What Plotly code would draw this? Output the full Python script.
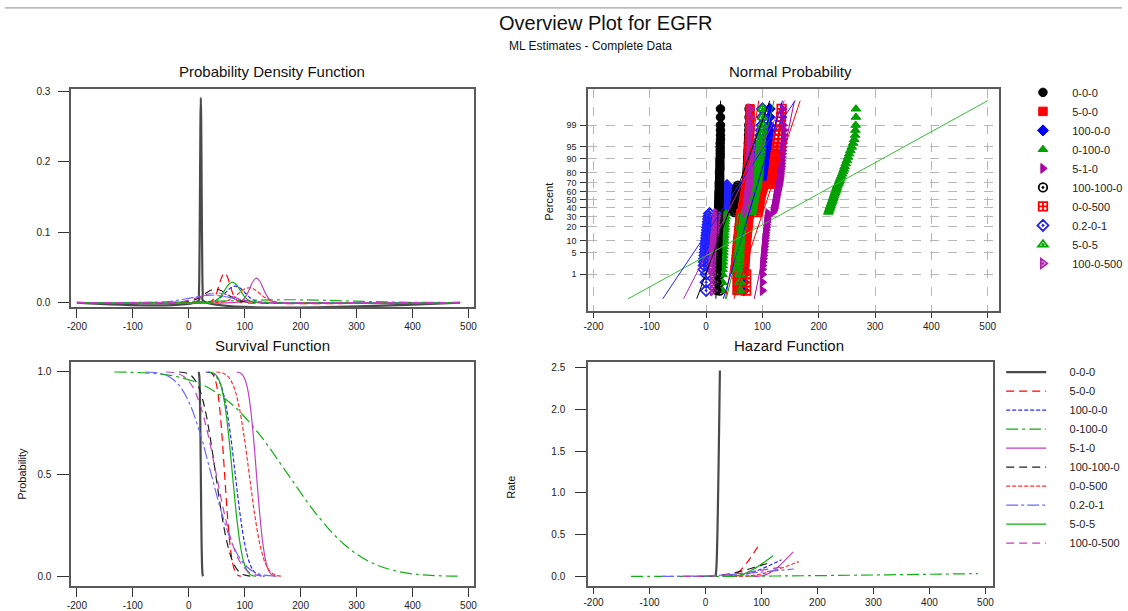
import plotly.graph_objects as go
from statistics import NormalDist

W, H = 1128, 611
FONT = "Arial, Liberation Sans, sans-serif"

# ---------------- data ----------------
SERIES = ["0-0-0", "5-0-0", "100-0-0", "0-100-0", "5-1-0",
          "100-100-0", "0-0-500", "0.2-0-1", "5-0-5", "100-0-500"]

# survival probability levels at which each curve's x positions were read
SURV_LEVELS = [0.9990, 0.9938, 0.9772, 0.9332, 0.8413, 0.6915, 0.5,
               0.3085, 0.1587, 0.0668, 0.0228, 0.0062, 0.00097]

CURVE_X = {
    "0-0-0":     [17.25, 18.07, 18.76, 19.44, 20.13, 20.81, 21.5, 22.19, 22.87, 23.56, 24.24, 24.93, 25.75],
    "5-0-0":     [34.6, 40.3, 45.0, 49.8, 54.5, 59.3, 64.0, 68.8, 73.5, 78.3, 83.0, 87.8, 93.5],
    "100-0-0":   [30.3, 40.5, 49.0, 57.5, 66.0, 74.5, 83.0, 91.5, 100.0, 108.5, 117.0, 125.5, 135.7],
    "0-100-0":   [-133, -73, -23, 27, 77, 127, 177, 227, 277, 327, 377, 427, 487],
    "5-1-0":     [85.35, 92.25, 98.0, 103.75, 109.5, 115.25, 121.0, 126.75, 132.5, 138.25, 144.0, 149.75, 156.65],
    "100-100-0": [-17.1, -4.5, 6.0, 16.5, 27.0, 37.5, 48.0, 58.5, 69.0, 79.5, 90.0, 100.5, 113.1],
    "0-0-500":   [49.1, 60.5, 70.0, 79.5, 89.0, 98.5, 108.0, 117.5, 127.0, 136.5, 146.0, 155.5, 166.9],
    "0.2-0-1":   [-77.8, -55.0, -36.0, -17.0, 2.0, 21.0, 40.0, 59.0, 78.0, 97.0, 116.0, 135.0, 157.8],
    "5-0-5":     [35.5, 43.75, 50.6, 57.45, 64.3, 71.15, 78.0, 84.85, 91.7, 98.55, 105.4, 112.25, 120.5],
    "100-0-500": [-40.9, -23.5, -9.0, 5.5, 20.0, 34.5, 49.0, 63.5, 78.0, 92.5, 107.0, 121.5, 138.9],
}

PDF_Y = {
    "0-0-0":     [0.00239, 0.01277, 0.0394, 0.0945, 0.1766, 0.2570, 0.2912, 0.2570, 0.1766, 0.0945, 0.0394, 0.01277, 0.00239],
    "5-0-0":     [0.000344, 0.00184, 0.00568, 0.01363, 0.02547, 0.03706, 0.04199, 0.03706, 0.02547, 0.01363, 0.00568, 0.00184, 0.000344],
    "100-0-0":   [0.000192, 0.00103, 0.00318, 0.00762, 0.01424, 0.02071, 0.02346, 0.02071, 0.01424, 0.00762, 0.00318, 0.00103, 0.000192],
    "0-100-0":   [0.0000327, 0.000175, 0.00054, 0.001295, 0.00242, 0.003521, 0.003989, 0.003521, 0.00242, 0.001295, 0.00054, 0.000175, 0.0000327],
    "5-1-0":     [0.000284, 0.00152, 0.0047, 0.01126, 0.02104, 0.03062, 0.03469, 0.03062, 0.02104, 0.01126, 0.0047, 0.00152, 0.000284],
    "100-100-0": [0.000156, 0.000833, 0.00257, 0.00617, 0.01152, 0.01677, 0.0190, 0.01677, 0.01152, 0.00617, 0.00257, 0.000833, 0.000156],
    "0-0-500":   [0.000172, 0.000921, 0.00284, 0.00682, 0.01274, 0.01853, 0.0210, 0.01853, 0.01274, 0.00682, 0.00284, 0.000921, 0.000172],
    "0.2-0-1":   [0.000086, 0.00046, 0.00142, 0.00341, 0.00637, 0.00927, 0.0105, 0.00927, 0.00637, 0.00341, 0.00142, 0.00046, 0.000086],
    "5-0-5":     [0.000239, 0.00128, 0.00394, 0.00945, 0.01766, 0.0257, 0.02912, 0.0257, 0.01766, 0.00945, 0.00394, 0.00128, 0.000239],
    "100-0-500": [0.000113, 0.000603, 0.00186, 0.00447, 0.00834, 0.01214, 0.01376, 0.01214, 0.00834, 0.00447, 0.00186, 0.000603, 0.000113],
}

HAZ_Y = {
    "0-0-0":     [0.00239, 0.0128, 0.0404, 0.1013, 0.2099, 0.3717, 0.5824, 0.8331, 1.1132, 1.4150, 1.7323, 2.0603, 2.4657],
    "5-0-0":     [0.000344, 0.00185, 0.00582, 0.01461, 0.03027, 0.0536, 0.084, 0.1201, 0.1605, 0.2041, 0.2498, 0.2971, 0.3556],
    "100-0-0":   [0.000192, 0.00104, 0.00325, 0.00816, 0.01692, 0.02995, 0.04694, 0.06714, 0.08971, 0.114, 0.1396, 0.166, 0.1987],
    "0-100-0":   [0.0000327, 0.000176, 0.000553, 0.00139, 0.00288, 0.00509, 0.00798, 0.01141, 0.01525, 0.01939, 0.02373, 0.02823, 0.03378],
    "5-1-0":     [0.000284, 0.00153, 0.00481, 0.01207, 0.02501, 0.04428, 0.06938, 0.09924, 0.1326, 0.1686, 0.2064, 0.2454, 0.2937],
    "100-100-0": [0.000156, 0.000838, 0.00263, 0.00661, 0.0137, 0.02425, 0.038, 0.05435, 0.07262, 0.09231, 0.113, 0.1344, 0.1609],
    "0-0-500":   [0.000172, 0.000926, 0.00291, 0.00731, 0.01514, 0.0268, 0.042, 0.06007, 0.08027, 0.102, 0.1249, 0.1486, 0.1778],
    "0.2-0-1":   [0.000086, 0.000463, 0.00146, 0.00365, 0.00757, 0.0134, 0.021, 0.03003, 0.04013, 0.05102, 0.06245, 0.07428, 0.0889],
    "5-0-5":     [0.000239, 0.00128, 0.00404, 0.01013, 0.02099, 0.03717, 0.05824, 0.08331, 0.1113, 0.1415, 0.1732, 0.206, 0.2466],
    "100-0-500": [0.000113, 0.000607, 0.00191, 0.00479, 0.00992, 0.01756, 0.02751, 0.03936, 0.05259, 0.06685, 0.08184, 0.09733, 0.1165],
}

# normal probability plot: plotting positions (percent) of the three point groups
LOW_PCT = [0.23, 0.5, 1.0, 1.5, 2.0, 2.6, 3.3, 4.1, 5.0, 6.0, 7.2, 8.5, 10, 11.6,
           13.3, 15.2, 17.3, 19.5, 22, 24.6, 27.4, 30.3, 33.3]
MID_PCT = [35, 37, 39, 41, 43, 45, 47, 49, 51, 53, 55, 57, 59, 61, 63, 65, 67]
HIGH_PCT = [69, 71, 73, 75, 77, 79, 81, 83, 85, 87, 89, 90.8, 92.4, 93.8, 95, 96.1,
            97, 97.8, 98.5, 99.0, 99.5, 99.77]

# x of each point: low group, middle group, high group
POINT_X = {
    "0-0-0": (
        [19, 19, 19, 19.5, 19.5, 20, 20, 20, 20.5, 20.5, 20.5, 21, 21, 21, 21, 21.5, 21.5, 21.5, 21.5, 22, 22, 22, 22],
        [22, 22, 22.5, 22.5, 22.5, 22.5, 22.5, 23, 23, 23, 23, 23, 23, 23.5, 23.5, 23.5, 23.5],
        [23.5, 23.5, 24, 24, 24, 24, 24, 24.5, 24.5, 24.5, 24.5, 25, 25, 25, 25, 25, 25.5, 25.5, 25.5, 25.5, 25.5, 25.5]),
    "5-0-0": (
        [55, 55, 55, 52, 52.5, 53, 53.5, 54, 54.5, 55, 55.5, 56, 56.5, 57, 57.5, 58, 58.5, 59, 59.5, 60, 60.5, 61, 61.5],
        [64, 64.5, 65, 65.5, 66, 66.5, 67, 67.5, 68, 68.5, 69, 69.5, 70, 70.5, 71, 72, 73],
        [73, 73, 73.5, 73.5, 74, 74, 74.5, 74.5, 75, 75, 75.5, 75.5, 76, 76, 76.5, 76.5, 77, 77, 77.5, 77.5, 78, 78]),
    "100-0-0": (
        [67, 67, 67, 66, 66.5, 67, 67, 67.5, 67.5, 68, 68, 68.5, 68.5, 69, 69, 69.5, 70, 70, 70.5, 71, 71.5, 72, 72.5],
        [80, 80.3, 80.6, 81, 81.3, 81.6, 82, 82.3, 82.6, 83, 83.3, 83.6, 84, 84.3, 84.6, 85, 85.5],
        [104, 104.5, 105, 105.5, 106, 106, 106.5, 107, 107, 107.5, 108, 108, 108.5, 109, 109.5, 110, 110.5, 111, 111.5, 112, 112.5, 113]),
    "0-100-0": (
        [29, 29, 29, 29, 29.5, 29.5, 30, 30, 30.5, 30.5, 31, 31, 31.5, 31.5, 32, 32, 32.5, 33, 33, 33.5, 34, 34.5, 35],
        [217, 218, 219, 220, 221, 222, 223, 224, 225, 226, 227, 228, 229, 230, 231, 232, 233],
        [235, 236, 237, 238.5, 240, 241.5, 243, 244.5, 246, 248, 250, 252, 254, 256, 258.5, 261, 263, 264.5, 265, 265.5, 266, 266]),
    "5-1-0": (
        [100, 100, 100, 100, 100.5, 101, 101.5, 102, 102.5, 103, 103.5, 104, 104.5, 105, 105.5, 106, 106.5, 107, 107.5, 108, 108.5, 109, 110],
        [119, 120, 121, 121.5, 122, 122.5, 123, 123.5, 124, 124.5, 125, 125.5, 126, 127, 127.5, 128, 129],
        [129.5, 130, 130.5, 131, 131.5, 132, 132.5, 133, 133.5, 134, 134.5, 135, 135.5, 136, 136.5, 137, 137.5, 138, 138, 137, 136, 136]),
    "100-100-0": (
        [24, 24, 24, 24.5, 25, 25, 25.5, 25.5, 26, 26, 26.5, 26.5, 27, 27, 27.5, 27.5, 28, 28, 28.5, 28.5, 29, 29, 29],
        [50, 50.5, 51, 51.5, 52, 52, 52.5, 53, 53, 53.5, 54, 54, 54.5, 55, 55.5, 56, 56.5],
        [72, 72, 72.5, 72.5, 73, 73, 73.5, 73.5, 74, 74, 74.5, 74.5, 75, 75, 75.5, 75.5, 76, 76, 76.5, 76.5, 77, 77]),
    "0-0-500": (
        [71, 71, 71, 67, 67.5, 68, 68.5, 69, 69, 69.5, 70, 70, 70.5, 71, 71.5, 72, 72.5, 73, 73.5, 74, 74.5, 75, 75.5],
        [91, 91.5, 92, 92.5, 93, 93.5, 94, 94.5, 95, 95.5, 96, 96.5, 97, 98, 99, 100, 101],
        [117, 117.5, 118, 118.5, 119, 119.5, 120, 120.5, 121, 121.5, 122, 123, 124, 125, 126, 127, 128, 129, 130, 131.5, 133, 134]),
    "0.2-0-1": (
        [0, 0, 0, -4, -3.5, -3, -2.5, -2, -1.5, -1, -0.5, 0, 0.5, 1, 1.5, 2, 2.5, 3, 3.5, 4, 4.5, 5, 6],
        [30, 30.5, 31, 31.5, 32, 32, 32.5, 33, 33, 33.5, 34, 34.5, 35, 35.5, 36, 36.5, 37],
        [88, 88.5, 89, 89.5, 90, 90.5, 91, 91.5, 92, 92.5, 93, 93.5, 94, 94.5, 95, 95.5, 96, 97, 98, 99, 100, 100]),
    "5-0-5": (
        [60, 60, 60, 57, 57.5, 58, 58, 58.5, 58.5, 59, 59, 59.5, 60, 60, 60.5, 61, 61.5, 62, 62.5, 63, 63.5, 64, 65],
        [80, 80.5, 81, 81.5, 82, 82.5, 83, 83.5, 84, 84.5, 85, 85.5, 86, 86.5, 87, 88, 89],
        [89.5, 90, 90.5, 91, 91.5, 92, 92.5, 93, 93.5, 94, 94.5, 95, 95.5, 96, 96.5, 97, 97.5, 98, 99, 100, 100, 100]),
    "100-0-500": (
        [12, 12, 12, 9, 9.5, 10, 10.5, 11, 11, 11.5, 12, 12, 12.5, 13, 13.5, 14, 14.5, 15, 15.5, 16, 16.5, 17, 18],
        [70, 70.3, 70.6, 71, 71.3, 71.6, 72, 72.3, 72.6, 73, 73.3, 73.6, 74, 74, 74.3, 74.6, 75],
        [75, 75, 75, 75.5, 75.5, 76, 76, 76, 76.5, 76.5, 77, 77, 77, 77.5, 77.5, 77.5, 77.5, 77.5, 77.5, 77.5, 77.5, 77.5]),
}

# fitted lines on the probability plot: x at 0.1 % and at 99.9 %
FIT_PCT = [0.1, 99.9]
FIT_X = {
    "0-0-0": [17.3, 25.7], "5-0-0": [34.5, 93.5], "100-0-0": [30.6, 135.5],
    "0-100-0": [-138.5, 500], "5-1-0": [85.5, 156.8], "100-100-0": [-16.7, 113],
    "0-0-500": [49.5, 167], "0.2-0-1": [-77, 158], "5-0-5": [35.8, 120.6],
    "100-0-500": [-40, 139],
}

PCT_TICKS = [1, 5, 10, 20, 30, 40, 50, 60, 70, 80, 90, 95, 99]
X_TICKS = [-200, -100, 0, 100, 200, 300, 400, 500]
X_TICKTEXT = ["-200", "-100", "0", "100", "200", "300", "400", "500"]

# ---------------- styles ----------------
MARK_COLORS = {"0-0-0": "#000000", "5-0-0": "#ff0000", "100-0-0": "#0000ff", "0-100-0": "#00a000",
               "5-1-0": "#a800a8", "100-100-0": "#000000", "0-0-500": "#ff0000", "0.2-0-1": "#2020ff",
               "5-0-5": "#00a800", "100-0-500": "#b020b0"}
LINE_COLORS = {"0-0-0": "#4a4a4a", "5-0-0": "#ff0000", "100-0-0": "#2a2aff", "0-100-0": "#10b010",
               "5-1-0": "#c040c0", "100-100-0": "#202020", "0-0-500": "#ff3030", "0.2-0-1": "#6868ff",
               "5-0-5": "#10b010", "100-0-500": "#c040c0"}
DASHES = {"0-0-0": "solid", "5-0-0": "8px,5px", "100-0-0": "4px,2px", "0-100-0": "12px,4px,3px,4px",
          "5-1-0": "solid", "100-100-0": "8px,5px", "0-0-500": "4px,2px", "0.2-0-1": "12px,3px,3px,3px",
          "5-0-5": "solid", "100-0-500": "8px,5px"}
SYMBOLS = {"0-0-0": "circle", "5-0-0": "square", "100-0-0": "diamond", "0-100-0": "triangle-up",
           "5-1-0": "triangle-right", "100-100-0": "circle-open-dot", "0-0-500": "square-cross-open",
           "0.2-0-1": "diamond-open-dot", "5-0-5": "triangle-up-open-dot", "100-0-500": "triangle-right-open-dot"}
WIDTHS = {s: 1.2 for s in SERIES}
WIDTHS["0-0-0"] = 2.2

NB = "\u00a0"
ND = NormalDist()
def zq(p):
    return ND.inv_cdf(p / 100.0)

fig = go.Figure()

# ---- PDF panel ----
for s in SERIES:
    xs = list(CURVE_X[s]); ys = list(PDF_Y[s])
    if xs[0] > -200:
        xs = [-200] + xs; ys = [0.0] + ys
    if xs[-1] < 485:
        xs = xs + [485]; ys = ys + [0.0]
    fig.add_trace(go.Scatter(x=xs, y=ys, mode="lines", xaxis="x", yaxis="y",
                             line=dict(color=LINE_COLORS[s], width=WIDTHS[s], dash=DASHES[s], shape="spline"),
                             showlegend=False, hoverinfo="skip"))

# ---- Normal probability panel: points ----
ALL_PCT = LOW_PCT + MID_PCT + HIGH_PCT
DRAW_ORDER = ["100-0-0", "0.2-0-1", "100-100-0", "5-0-0", "0-0-500", "0-100-0",
              "5-0-5", "0-0-0", "5-1-0", "100-0-500"]
for s in DRAW_ORDER:
    lo, mid, hi = POINT_X[s]
    assert len(lo) == len(LOW_PCT) and len(mid) == len(MID_PCT) and len(hi) == len(HIGH_PCT), s
    is_open = "open" in SYMBOLS[s]
    fig.add_trace(go.Scatter(x=lo + mid + hi, y=[zq(p) for p in ALL_PCT], mode="markers",
                             xaxis="x2", yaxis="y2", name=NB * 3 + s, legend="legend",
                             legendrank=SERIES.index(s) + 1,
                             marker=dict(symbol=SYMBOLS[s], color=MARK_COLORS[s], size=8.5,
                                         line=dict(color=MARK_COLORS[s], width=1.8 if is_open else 1)),
                             showlegend=True, hoverinfo="skip"))
for s in SERIES:
    fig.add_trace(go.Scatter(x=FIT_X[s], y=[zq(p) for p in FIT_PCT], mode="lines",
                             xaxis="x2", yaxis="y2",
                             line=dict(color=MARK_COLORS[s] if s != "0-100-0" else "#30c030", width=1),
                             showlegend=False, hoverinfo="skip"))

# ---- Survival panel ----
for s in SERIES:
    fig.add_trace(go.Scatter(x=CURVE_X[s], y=SURV_LEVELS, mode="lines", xaxis="x3", yaxis="y3",
                             name=NB * 6 + s, legend="legend2", legendrank=SERIES.index(s) + 1,
                             line=dict(color=LINE_COLORS[s], width=WIDTHS[s], dash=DASHES[s], shape="spline"),
                             showlegend=True, hoverinfo="skip"))

# ---- Hazard panel ----
for s in SERIES:
    fig.add_trace(go.Scatter(x=CURVE_X[s], y=HAZ_Y[s], mode="lines", xaxis="x4", yaxis="y4",
                             line=dict(color=LINE_COLORS[s], width=WIDTHS[s], dash=DASHES[s], shape="spline"),
                             showlegend=False, hoverinfo="skip"))

# ---------------- layout ----------------
def px_x(a, b):
    return [a / W, b / W]

def px_y(top, bottom):
    return [1 - bottom / H, 1 - top / H]

FRAME = dict(showline=True, mirror=True, linecolor="#5a5a5a", linewidth=2, zeroline=False,
             showgrid=False, ticks="outside", tickcolor="#333333", tickwidth=1,
             tickfont=dict(family=FONT, size=10, color="#222222"))
GRID = dict(showgrid=True, gridcolor="#b8b8b8", griddash="dash", gridwidth=1)

fig.update_layout(
    width=W, height=H, autosize=False,
    margin=dict(l=0, r=0, t=0, b=0, pad=0),
    paper_bgcolor="white", plot_bgcolor="white",
    font=dict(family=FONT, color="#222222"),
    xaxis=dict(domain=px_x(67, 474), range=[-210, 510.6], tickvals=X_TICKS, ticktext=X_TICKTEXT,
               ticklen=9, anchor="y", **FRAME),
    yaxis=dict(domain=px_y(87, 309), range=[-0.007, 0.3042], tickvals=[0, 0.1, 0.2, 0.3],
               ticktext=["0.0", "0.1", "0.2", "0.3"], ticklen=11, ticklabelstandoff=6, anchor="x", **FRAME),
    xaxis2=dict(domain=px_x(589, 1004), range=[-209.3, 520.4], tickvals=X_TICKS, ticktext=X_TICKTEXT,
                ticklen=5, anchor="y2", **{**FRAME, **GRID}),
    yaxis2=dict(domain=px_y(87, 313), range=[-3.484, 3.463], tickvals=[zq(p) for p in PCT_TICKS],
                ticktext=[str(p) for p in PCT_TICKS], ticklen=6, ticklabelstandoff=2, anchor="x2",
                **{**FRAME, **GRID, "tickfont": dict(family=FONT, size=9, color="#222222")}),
    xaxis3=dict(domain=px_x(67, 474), range=[-210, 510.6], tickvals=X_TICKS, ticktext=X_TICKTEXT,
                ticklen=9, anchor="y3", **FRAME),
    yaxis3=dict(domain=px_y(364, 592), range=[-0.048, 1.0496], tickvals=[0, 0.5, 1.0],
                ticktext=["0.0", "0.5", "1.0"], ticklen=12, ticklabelstandoff=4, anchor="x3", **FRAME),
    xaxis4=dict(domain=px_x(589, 998), range=[-209.4, 514], tickvals=X_TICKS, ticktext=X_TICKTEXT,
                ticklen=6, anchor="y4", **FRAME),
    yaxis4=dict(domain=px_y(364, 592), range=[-0.118, 2.571], tickvals=[0, 0.5, 1.0, 1.5, 2.0, 2.5],
                ticktext=["0.0", "0.5", "1.0", "1.5", "2.0", "2.5"], ticklen=11, anchor="x4",
                ticklabelstandoff=8, **FRAME),
    legend=dict(x=1028 / W, y=1 - 76 / H, xanchor="left", yanchor="top", bgcolor="rgba(0,0,0,0)",
                font=dict(family=FONT, size=11, color="#222222"), tracegroupgap=0, itemsizing="trace"),
    legend2=dict(x=1006 / W, y=1 - 360 / H, xanchor="left", yanchor="top", bgcolor="rgba(0,0,0,0)",
                 font=dict(family=FONT, size=11, color="#222222"), tracegroupgap=0, itemwidth=40),
    shapes=[dict(type="line", xref="paper", yref="paper", x0=0, x1=1, y0=1 - 5 / H, y1=1 - 5 / H,
                 line=dict(color="#8c8c8c", width=1))],
)

ann = [
    ("Overview Plot for EGFR", 606, 20, 20, 0),
    ("ML Estimates - Complete Data", 591, 44, 12, 0),
    ("Probability Density Function", 270, 70, 15, 0),
    ("Normal Probability", 793, 70, 15, 0),
    ("Survival Function", 270, 348, 15, 0),
    ("Hazard Function", 792, 348, 15, 0),
    ("Percent", 549, 202, 11, -90),
    ("Probability", 17, 478, 11, -90),
    ("Rate", 511, 492, 11, -90),
]
for text, xp, yp, size, ang in ann:
    fig.add_annotation(text=text, x=xp / W, y=1 - yp / H, xref="paper", yref="paper",
                       xanchor="center", yanchor="middle", showarrow=False, textangle=ang,
                       font=dict(family=FONT, size=size, color="#111111"))

fig.write_html("out.html", config={"displayModeBar": False},
               post_script="document.body.style.margin='0px';")
